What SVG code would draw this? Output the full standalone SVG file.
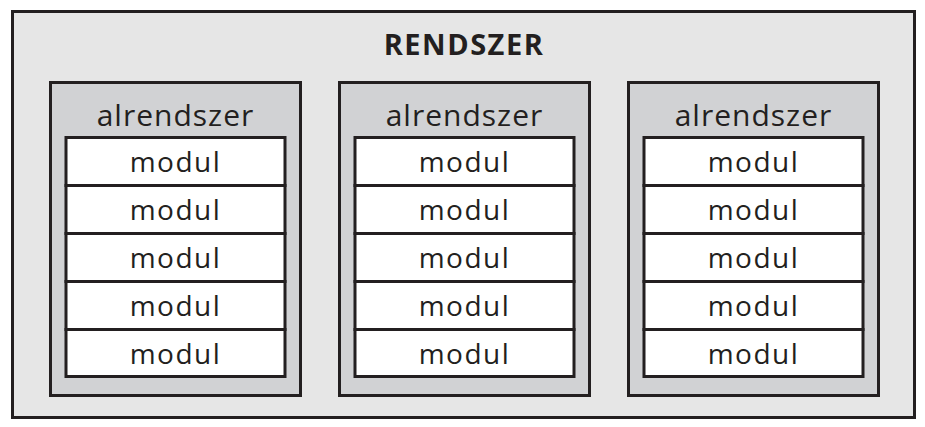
<svg xmlns="http://www.w3.org/2000/svg" width="925" height="427" viewBox="0 0 925 427">
<style>
.outer{fill:#e6e6e6;stroke:#231f20;stroke-width:3}
.sub{fill:#d1d2d4;stroke:#231f20;stroke-width:3}
.mod{fill:#ffffff;stroke:#231f20;stroke-width:3}
.t{font-family:"Open Sans","DejaVu Sans",sans-serif;fill:#231f20;text-anchor:middle}
.title{font-size:29px;font-weight:bold;letter-spacing:1.5px}
.st{font-size:30px;letter-spacing:1px}
.mt{font-size:28px;letter-spacing:1.5px}
</style>
<defs>
<g id="stack">
<rect class="sub" x="0" y="0" width="250" height="313"/>
<text class="t st" x="125" y="43">alrendszer</text>
<rect class="mod" x="15.5" y="55" width="219" height="48"/>
<rect class="mod" x="15.5" y="103" width="219" height="48"/>
<rect class="mod" x="15.5" y="151" width="219" height="48"/>
<rect class="mod" x="15.5" y="199" width="219" height="48"/>
<rect class="mod" x="15.5" y="247" width="219" height="47"/>
<text class="t mt" x="125" y="89">modul</text>
<text class="t mt" x="125" y="137">modul</text>
<text class="t mt" x="125" y="185">modul</text>
<text class="t mt" x="125" y="233">modul</text>
<text class="t mt" x="125" y="281">modul</text>
</g>
</defs>
<g id="rendszer">
<rect class="outer" x="12.5" y="11.5" width="902" height="406"/>
<text class="t title" x="464" y="55">RENDSZER</text>
</g>
<g id="alrendszer1" transform="translate(50.5,82.5)"><use href="#stack"/></g>
<g id="alrendszer2" transform="translate(339.5,82.5)"><use href="#stack"/></g>
<g id="alrendszer3" transform="translate(628.5,82.5)"><use href="#stack"/></g>
<g id="connectors"/>
</svg>
